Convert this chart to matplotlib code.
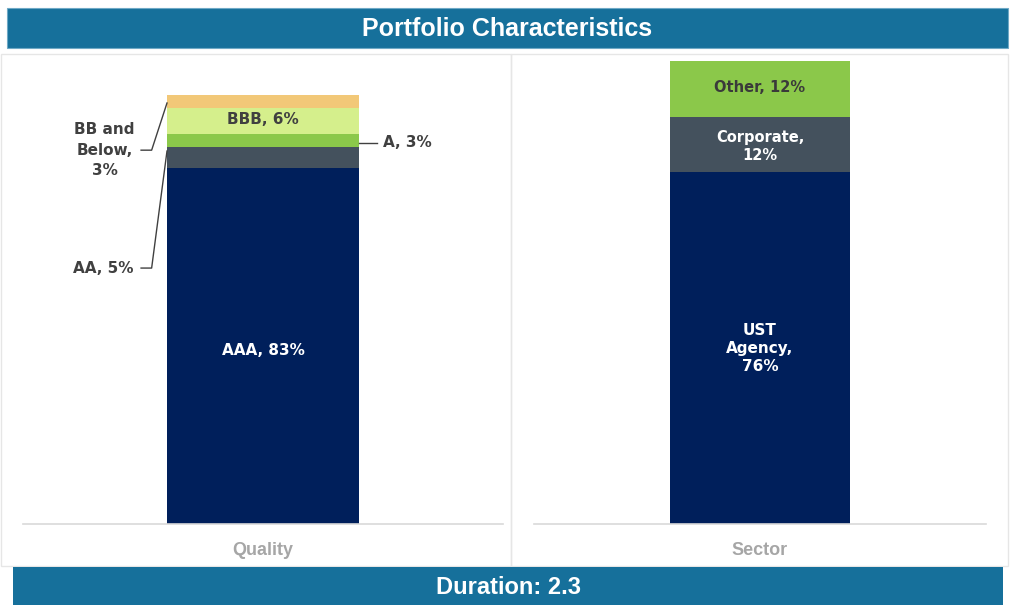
import matplotlib
matplotlib.use('agg')
import matplotlib.pyplot as plt
from matplotlib.patches import Rectangle

plt.rcParams['font.family'] = ['Liberation Sans', 'DejaVu Sans']

TITLE = 'Portfolio Characteristics'
FOOTER = 'Duration: 2.3'

quality_names = ['AAA', 'AA', 'A', 'BBB', 'BB and\nBelow']
quality_vals = [83, 5, 3, 6, 3]
quality_colors = ['#001f5b', '#44515d', '#8bc84a', '#d5ef8c', '#f2c878']

sector_names = ['UST\nAgency', 'Corporate', 'Other']
sector_vals = [76, 12, 12]
sector_colors = ['#001f5b', '#44515d', '#8bc84a']

BANNER = '#16709b'
LBL_FONT = ['DejaVu Sans']

W, H = 1018, 605
fig = plt.figure(figsize=(W / 100, H / 100), dpi=100)


def fx(px):
    return px / W


def fy(py):
    return 1 - py / H


# panel frames
for x0, x1 in [(1, 511), (511, 1008)]:
    fig.patches.append(Rectangle((fx(x0), fy(566)), fx(x1 - x0), (566 - 54) / H,
                                 transform=fig.transFigure, fill=False,
                                 edgecolor='#e6e6e6', lw=1, zorder=0))

# banners
fig.patches.append(Rectangle((fx(7), fy(48)), fx(1001), 40 / H, transform=fig.transFigure,
                             facecolor=BANNER, edgecolor='#6fa9c6', lw=0.8, zorder=1))
fig.text(fx(507), fy(28.5), TITLE, color='white', fontsize=18, fontweight='bold',
         ha='center', va='center')
fig.patches.append(Rectangle((fx(13), 0), fx(990), 38 / H, transform=fig.transFigure,
                             facecolor=BANNER, edgecolor='none', zorder=1))
fig.text(fx(509), fy(588), FOOTER, color='white', fontsize=17, fontweight='bold',
         ha='center', va='center')


def stack_axes(rect, names, vals, colors, ymax, xlabel):
    ax = fig.add_axes(rect)
    bottom = 0
    mids = []
    for n, v, c in zip(names, vals, colors):
        ax.bar(0, v, width=0.4, bottom=bottom, color=c, edgecolor='none')
        mids.append(bottom + v / 2)
        bottom += v
    ax.set_xlim(-0.5, 0.5)
    ax.set_ylim(0, ymax)
    for s in ['top', 'left', 'right']:
        ax.spines[s].set_visible(False)
    ax.spines['bottom'].set_color('#d9d9d9')
    ax.spines['bottom'].set_linewidth(1.2)
    ax.set_yticks([])
    ax.set_xticks([0])
    ax.set_xticklabels([xlabel], color='#a6a6a6', fontsize=13, fontweight='bold')
    ax.tick_params(axis='x', length=0, pad=13)
    return ax, mids


lbl = dict(fontsize=11, fontweight='bold', va='center', family=LBL_FONT)

# Quality panel
axq, qm = stack_axes([fx(23), 81 / H, fx(480), 463 / H], quality_names, quality_vals,
                     quality_colors, 108, 'Quality')
axq.text(0, qm[0] - 1, f'{quality_names[0]}, {quality_vals[0]}%', color='white',
         ha='center', **lbl)
axq.text(0, qm[3] + 0.3, f'{quality_names[3]}, {quality_vals[3]}%', color='#404040',
         ha='center', **lbl)

# A label to the right
axq.text(0.25, qm[2] - 0.6, f'{quality_names[2]}, {quality_vals[2]}%', color='#404040',
         ha='left', **lbl)
axq.plot([0.2, 0.237], [qm[2] - 0.6, qm[2] - 0.6], color='#404040', lw=1, clip_on=False)

# BB and Below label with leader
yb = 87.2
axq.text(-0.33, yb, f'{quality_names[4]},\n{quality_vals[4]}%', color='#404040',
         ha='center', linespacing=1.45, **lbl)
axq.plot([-0.254, -0.232, -0.2], [yb, yb, sum(quality_vals) - 1.8], color='#404040',
         lw=1, clip_on=False)

# AA label with leader
ya = 59.7
axq.text(-0.27, ya, f'{quality_names[1]}, {quality_vals[1]}%', color='#404040',
         ha='right', **lbl)
axq.plot([-0.254, -0.232, -0.2], [ya, ya, qm[1] + 1.5], color='#404040', lw=1, clip_on=False)

# Sector panel
axs, sm = stack_axes([fx(534), 81 / H, fx(452), 463 / H], sector_names, sector_vals,
                     sector_colors, 100, 'Sector')
axs.text(0, sm[0], f'{sector_names[0]},\n{sector_vals[0]}%', color='white',
         ha='center', linespacing=1.25, **lbl)
axs.text(0, sm[1] - 0.5, f'{sector_names[1]},\n{sector_vals[1]}%', color='white',
         ha='center', linespacing=1.25, fontsize=10.5, fontweight='bold', va='center',
         family=LBL_FONT)
axs.text(0, sm[2] + 0.3, f'{sector_names[2]}, {sector_vals[2]}%', color='#3a3a3a',
         ha='center', fontsize=10.5, fontweight='bold', va='center', family=LBL_FONT)

fig.savefig('out.png', dpi=100)
